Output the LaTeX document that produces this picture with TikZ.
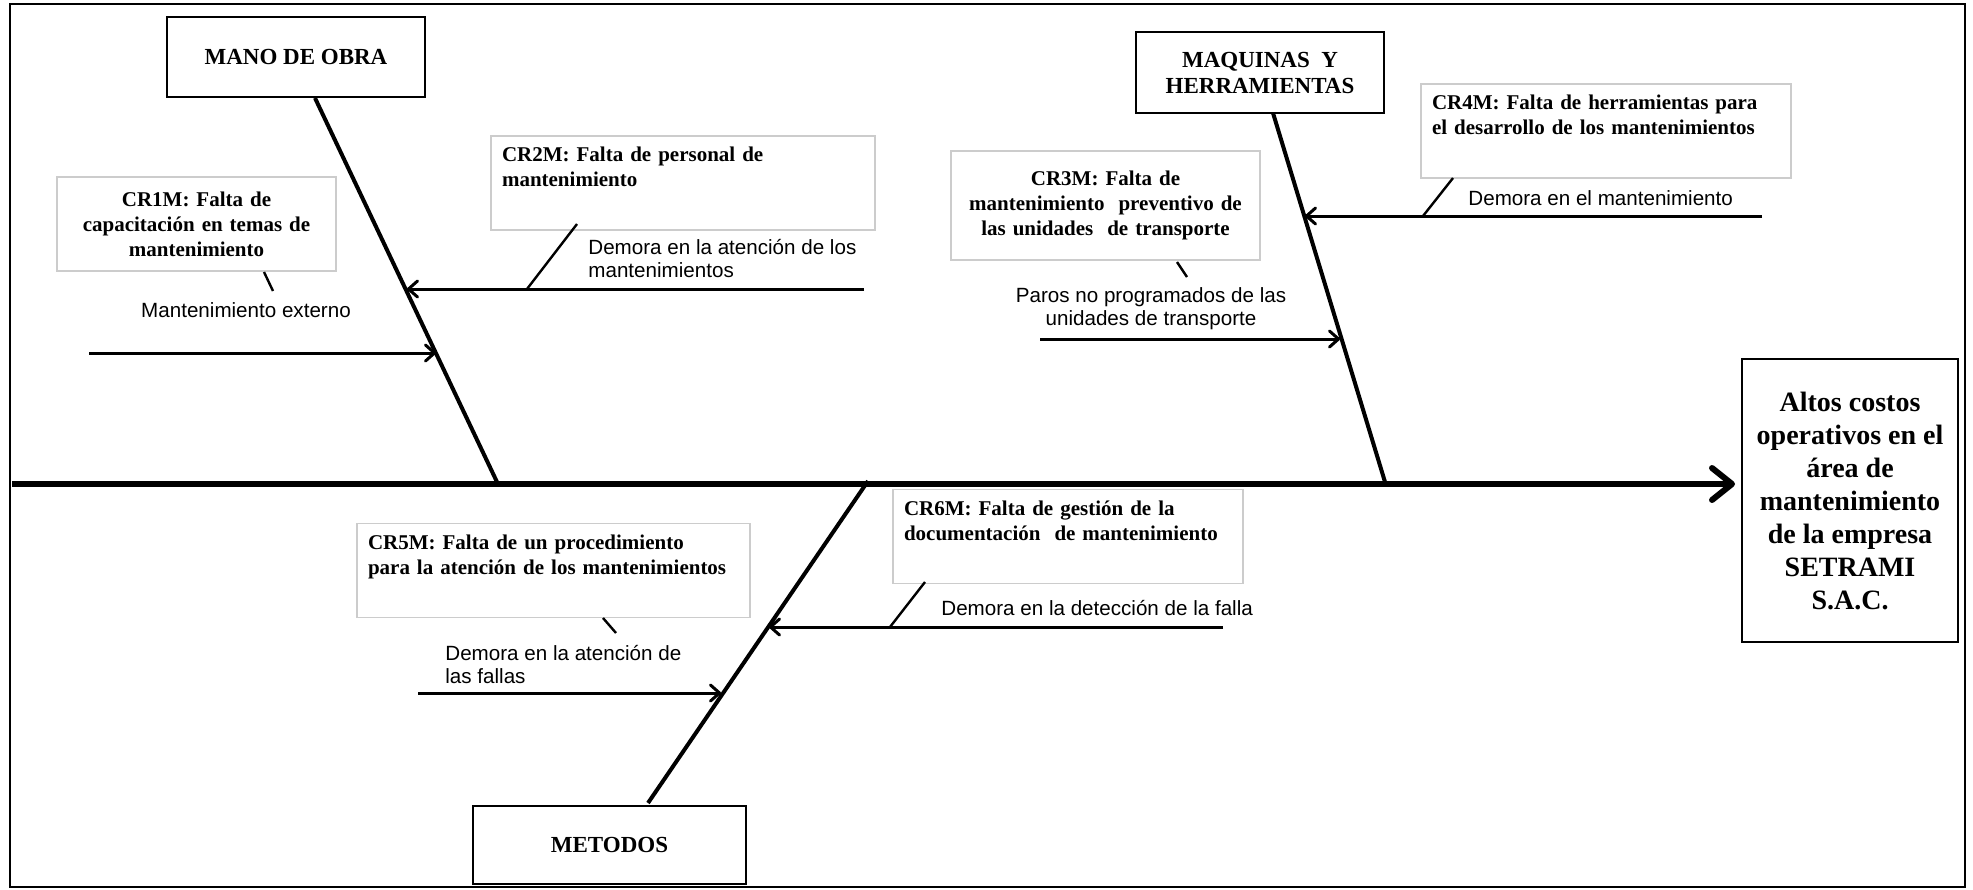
\documentclass[tikz,border=0pt]{standalone}
\usepackage{fontspec}
\setmainfont{Liberation Serif}
\newfontfamily\arialfont{Liberation Sans}
\usepackage{tikz}
\usetikzlibrary{arrows.meta}
\tikzset{
    % main spine with the big chevron
    spinearrow/.style={
        line width=3pt,
        black,
        -{Straight Barb[length=10pt, width=16pt, round]}
    },
    % small cause arrows
    causearrow/.style={
        line width=1.5pt,
        black,
        -{Straight Barb[length=4.5pt, width=8pt, round]}
    },
    boneline/.style={line width=2pt, black},
    tickline/.style={line width=1.2pt, black},
    catbox/.style={
        draw=black, line width=0.7pt, align=center,
        font=\fontsize{11.5}{13}\selectfont\bfseries
    },
    causebox/.style={
        draw=black!20, line width=0.6pt, inner sep=5.5pt,
        font=\fontsize{10.5}{12.5}\selectfont\bfseries
    },
    causelabel/.style={
        inner sep=0pt,
        font=\arialfont\fontsize{10.3}{11.5}\selectfont
    }
}

\begin{document}
\begin{tikzpicture}[x=0.5pt,y=-0.5pt]
    \useasboundingbox (0,0) rectangle (1973,889);
    % ===================== frame =====================
    \draw[line width=1pt] (10,4) rectangle (1965,887);

    \path
    (12,484) coordinate (s0)
    (1735,484) coordinate (s1)
    (315,98) coordinate (m0)
    (497,482) coordinate (m1)
    (1273,113) coordinate (q0)
    (1385,482) coordinate (q1)
    (648,803) coordinate (t0)
    (868,481) coordinate (t1)
    ;

    % ===================== boxes =====================
    \node[catbox, minimum width=129pt, minimum height=40pt] (mano) at (296,57) {MANO DE OBRA};
    \node[catbox, minimum width=124pt, minimum height=40.5pt] (maq) at (1260,72.5) {MAQUINAS\ \ Y\\HERRAMIENTAS};
    \node[catbox, minimum width=136.5pt, minimum height=39pt] (met) at (609.5,845) {METODOS};
    \node[catbox, font=\fontsize{14}{16.5}\selectfont\bfseries, minimum width=108pt, minimum height=141.5pt] (efecto) at (1850,500.5)
        {Altos costos\\operativos en el\\área de\\mantenimiento\\de la empresa\\SETRAMI\\S.A.C.};

    \node[causebox, text width=128.5pt, align=center, minimum height=47pt] (cr1) at (196.5,224)
        {CR1M: Falta de\\capacitación en temas de\\mantenimiento};
    \node[causebox, text width=181pt, align=left, minimum height=40pt] (cr2) at (683,183)
        {CR2M: Falta de personal de\\mantenimiento\\\strut};
    \node[causebox, text width=143.5pt, align=center, minimum height=54.5pt] (cr3) at (1105.5,205.5)
        {CR3M: Falta de\\mantenimiento\ \ preventivo de\\las unidades\ \ de transporte};
    \node[causebox, text width=174pt, align=left, minimum height=46pt] (cr4) at (1606,131)
        {CR4M: Falta de herramientas para\\el desarrollo de los mantenimientos\\\strut};
    \node[causebox, text width=185.5pt, align=left, minimum height=45.5pt] (cr5) at (553.5,570.5)
        {CR5M: Falta de un procedimiento\\para la atención de los mantenimientos\\\strut};
    \node[causebox, text width=164pt, align=left, minimum height=43.5pt] (cr6) at (1068,536.5)
        {CR6M: Falta de gestión de la\\documentación\ \ de mantenimiento\\\strut};

    % ===================== labels =====================
    \node[causelabel] (l1) at (246,310) {Mantenimiento externo};
    \node[causelabel, anchor=west, align=left] (l2) at (588,258.5) {Demora en la atención de los\\mantenimientos};
    \node[causelabel, align=center] (l3) at (1151,308.5) {Paros no programados de las\\unidades de transporte};
    \node[causelabel, anchor=west] (l4) at (1468,198) {Demora en el mantenimiento};
    \node[causelabel, anchor=west, align=left] (l5) at (445,664.5) {Demora en la atención de\\las fallas};
    \node[causelabel, anchor=west] (l6) at (941,608) {Demora en la detección de la falla};

    % ===================== spine and bones =====================
    \draw[spinearrow] (s0) -- (s1);
    \draw[boneline] (m0) -- (m1);
    \draw[boneline] (q0) -- (q1);
    \draw[boneline] (t0) -- (t1);

    % ===================== cause arrows =====================
    \path
    (89,353) coordinate (a1) (436,353) coordinate (b1)
    (864,289) coordinate (a2) (407,289) coordinate (b2)
    (1040,339) coordinate (a3) (1340,339) coordinate (b3)
    (1762,216) coordinate (a4) (1305,216) coordinate (b4)
    (418,693) coordinate (a5) (721,693) coordinate (b5)
    (1223,627) coordinate (a6) (769,627) coordinate (b6)
    ;
    \draw[causearrow] (a1) -- (b1);
    \draw[causearrow] (a2) -- (b2);
    \draw[causearrow] (a3) -- (b3);
    \draw[causearrow] (a4) -- (b4);
    \draw[causearrow] (a5) -- (b5);
    \draw[causearrow] (a6) -- (b6);

    % short ticks from the boxes
    \path
    (264,272) coordinate (k1) (273,291) coordinate (e1)
    (577,224) coordinate (k2) (527,289) coordinate (e2)
    (1177,262) coordinate (k3) (1187,277) coordinate (e3)
    (1453,178) coordinate (k4) (1423,216) coordinate (e4)
    (603,618) coordinate (k5) (616,633) coordinate (e5)
    (925,582) coordinate (k6) (890,627) coordinate (e6)
    ;
    \draw[tickline] (k1) -- (e1);
    \draw[tickline] (k2) -- (e2);
    \draw[tickline] (k3) -- (e3);
    \draw[tickline] (k4) -- (e4);
    \draw[tickline] (k5) -- (e5);
    \draw[tickline] (k6) -- (e6);
\end{tikzpicture}
\end{document}
